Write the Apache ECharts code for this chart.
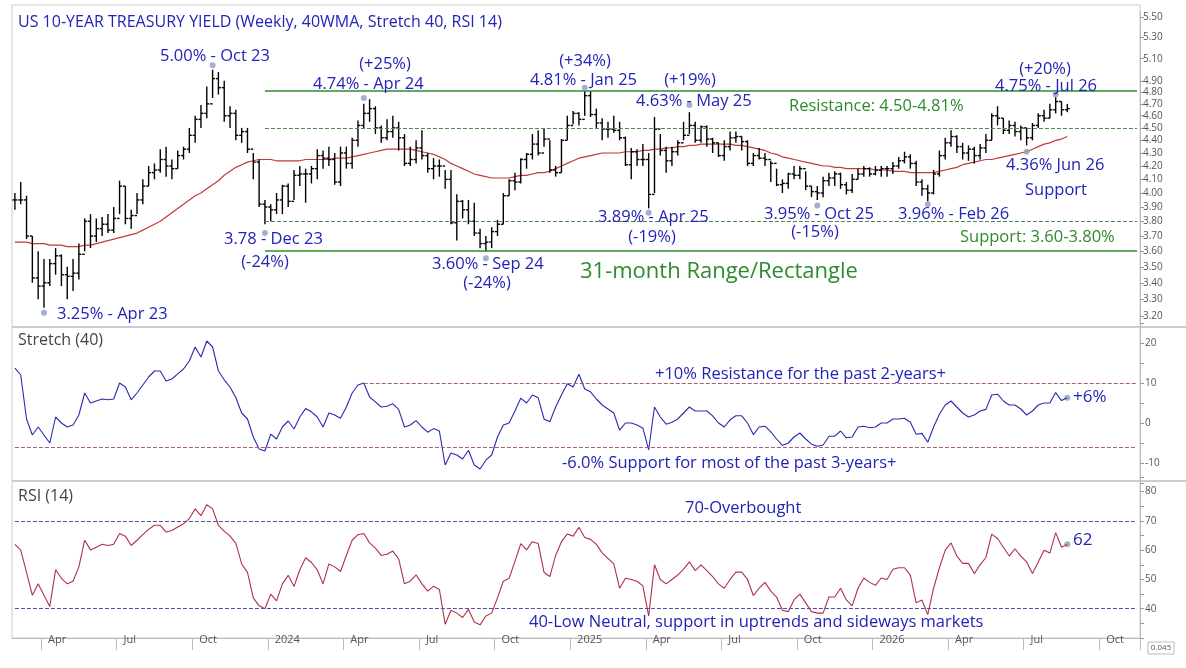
<!DOCTYPE html>
<html lang="en">
<head>
<meta charset="UTF-8">
<title>US 10-Year Treasury Yield</title>
<script src="https://cdn.jsdelivr.net/npm/echarts@6/dist/echarts.min.js"></script>
<style>
  html, body { margin: 0; padding: 0; background: #fff; }
  #chart { width: 1186px; height: 668px; }
</style>
</head>
<body>
<div id="chart"></div>
<script>
// weekly closes / highs / lows, first bar early Mar 2023
var closes = [
  3.95,3.95,3.70,3.43,3.38,3.40,3.52,3.57,3.45,3.44,
  3.46,3.58,3.80,3.70,3.75,3.78,3.74,3.82,4.05,3.82,
  3.84,3.95,4.05,4.15,4.17,4.25,4.20,4.18,4.28,4.33,
  4.44,4.57,4.62,4.70,4.92,4.84,4.60,4.62,4.44,4.47,
  4.33,4.23,3.92,3.90,3.88,3.95,4.05,3.94,4.13,4.14,
  4.14,4.18,4.28,4.26,4.25,4.08,4.30,4.22,4.40,4.52,
  4.62,4.66,4.50,4.42,4.47,4.50,4.42,4.22,4.25,4.34,
  4.28,4.18,4.20,4.20,4.10,3.79,3.94,3.88,3.80,3.72,
  3.65,3.66,3.73,3.78,3.98,4.09,4.08,4.25,4.29,4.37,
  4.30,4.41,4.17,4.15,4.40,4.52,4.62,4.57,4.77,4.61,
  4.54,4.49,4.49,4.48,4.42,4.21,4.31,4.25,4.25,3.99,
  4.49,4.32,4.24,4.31,4.38,4.44,4.52,4.40,4.51,4.41,
  4.38,4.28,4.35,4.42,4.43,4.39,4.22,4.28,4.26,4.25,
  4.22,4.06,4.07,4.14,4.13,4.18,4.05,4.01,4.00,4.09,
  4.11,4.14,4.06,4.02,4.10,4.14,4.18,4.14,4.17,4.18,
  4.18,4.20,4.24,4.27,4.22,4.08,4.03,4.00,4.14,4.28,
  4.38,4.43,4.35,4.30,4.33,4.28,4.34,4.40,4.60,4.58,
  4.48,4.52,4.47,4.50,4.42,4.52,4.60,4.58,4.65,4.72,
  4.65,4.66
];
var highs = [
  4.00,4.08,3.98,3.70,3.60,3.55,3.55,3.62,3.58,3.50,
  3.55,3.65,3.82,3.85,3.82,3.83,3.85,3.90,4.09,4.05,
  3.88,4.00,4.10,4.20,4.22,4.33,4.35,4.25,4.32,4.35,
  4.50,4.60,4.69,4.85,5.00,4.98,4.90,4.68,4.65,4.50,
  4.50,4.30,4.25,3.95,3.92,4.00,4.06,4.07,4.17,4.20,
  4.18,4.20,4.33,4.32,4.35,4.30,4.35,4.35,4.42,4.56,
  4.70,4.74,4.68,4.52,4.57,4.60,4.55,4.45,4.35,4.40,
  4.48,4.30,4.26,4.25,4.17,4.17,3.99,3.95,3.95,3.93,
  3.75,3.70,3.76,3.81,4.00,4.10,4.15,4.26,4.30,4.45,
  4.48,4.50,4.40,4.20,4.41,4.60,4.64,4.63,4.81,4.81,
  4.66,4.58,4.55,4.60,4.55,4.43,4.34,4.33,4.37,4.30,
  4.59,4.45,4.35,4.35,4.40,4.55,4.63,4.55,4.52,4.52,
  4.42,4.38,4.40,4.47,4.47,4.43,4.40,4.30,4.34,4.30,
  4.24,4.18,4.10,4.15,4.20,4.20,4.16,4.05,4.05,4.12,
  4.15,4.16,4.15,4.08,4.14,4.18,4.20,4.19,4.20,4.20,
  4.20,4.23,4.27,4.31,4.29,4.24,4.10,4.06,4.17,4.32,
  4.42,4.48,4.44,4.38,4.36,4.35,4.37,4.45,4.62,4.68,
  4.58,4.56,4.55,4.52,4.50,4.54,4.62,4.65,4.70,4.76,
  4.72,4.70
];
var lows = [
  3.88,3.92,3.68,3.40,3.30,3.25,3.38,3.45,3.38,3.30,
  3.35,3.42,3.60,3.62,3.66,3.70,3.72,3.72,3.85,3.78,
  3.75,3.85,3.92,4.05,4.10,4.15,4.12,4.10,4.18,4.25,
  4.30,4.38,4.50,4.58,4.75,4.78,4.55,4.50,4.40,4.38,
  4.30,4.10,3.90,3.78,3.80,3.85,3.85,3.90,3.95,4.05,
  3.93,4.07,4.10,4.18,4.20,4.06,4.05,4.18,4.18,4.35,
  4.50,4.55,4.45,4.38,4.40,4.42,4.32,4.20,4.20,4.22,
  4.25,4.15,4.10,4.12,4.03,3.78,3.67,3.82,3.78,3.70,
  3.62,3.60,3.62,3.70,3.78,3.98,4.02,4.07,4.18,4.25,
  4.28,4.35,4.15,4.12,4.15,4.40,4.53,4.52,4.60,4.59,
  4.50,4.40,4.42,4.46,4.40,4.20,4.10,4.20,4.20,3.89,
  4.00,4.28,4.15,4.20,4.28,4.40,4.45,4.38,4.38,4.35,
  4.30,4.27,4.24,4.32,4.38,4.32,4.20,4.20,4.25,4.20,
  4.08,4.05,4.00,4.03,4.10,4.10,4.02,3.97,3.95,3.97,
  4.05,4.05,4.03,3.99,4.00,4.10,4.12,4.12,4.13,4.12,
  4.12,4.14,4.18,4.22,4.18,4.05,3.98,3.94,3.99,4.12,
  4.25,4.35,4.30,4.25,4.24,4.22,4.25,4.30,4.40,4.52,
  4.45,4.45,4.43,4.40,4.36,4.40,4.50,4.55,4.58,4.62,
  4.60,4.63
];
var ma40 = [
  3.66,3.66,3.66,3.65,3.65,3.65,3.64,3.64,3.64,3.63,
  3.63,3.63,3.64,3.64,3.65,3.66,3.67,3.68,3.69,3.70,
  3.71,3.72,3.74,3.76,3.78,3.80,3.83,3.86,3.89,3.92,
  3.95,3.98,4.00,4.03,4.06,4.09,4.13,4.16,4.19,4.21,
  4.23,4.24,4.25,4.25,4.25,4.24,4.24,4.24,4.24,4.24,
  4.25,4.25,4.25,4.25,4.25,4.26,4.26,4.26,4.27,4.28,
  4.29,4.30,4.31,4.32,4.33,4.33,4.33,4.33,4.33,4.32,
  4.31,4.30,4.29,4.27,4.25,4.22,4.20,4.18,4.16,4.14,
  4.13,4.12,4.11,4.11,4.11,4.11,4.12,4.13,4.13,4.14,
  4.15,4.15,4.16,4.18,4.20,4.22,4.24,4.26,4.27,4.28,
  4.29,4.30,4.30,4.30,4.30,4.31,4.31,4.31,4.32,4.32,
  4.33,4.33,4.34,4.34,4.35,4.35,4.36,4.36,4.37,4.37,
  4.37,4.37,4.37,4.37,4.36,4.36,4.35,4.34,4.33,4.32,
  4.30,4.29,4.27,4.26,4.25,4.24,4.23,4.22,4.21,4.20,
  4.20,4.19,4.19,4.18,4.18,4.18,4.18,4.18,4.17,4.17,
  4.17,4.16,4.16,4.16,4.15,4.15,4.15,4.15,4.15,4.16,
  4.17,4.18,4.19,4.21,4.22,4.23,4.24,4.25,4.25,4.26,
  4.27,4.28,4.29,4.30,4.31,4.33,4.35,4.37,4.38,4.40,
  4.41,4.43
];
var stretch = [
  13.7,12,1,-3,-1,-3,-5,1.5,0,-1,
  -0.5,2,7.5,5,5.5,6,5.8,6,10,9,
  5.8,7.5,9.5,11.5,13,13,10.5,11,12.3,13.5,
  15.5,19,16.5,20.5,19,13,10.8,9,6.3,2.5,
  1,-3.5,-6.5,-7,-2.8,-4,-1,0.5,-1.5,1.5,
  3.6,2.8,1.5,-1,2.5,2,1.2,4,7.5,9.5,
  10,6.5,5.3,4,4.2,4.8,3.4,-1,-0.5,0.6,
  -1,-2.3,-1.4,-2,-10.5,-7.5,-8,-9,-6.8,-10.5,
  -11.5,-9.3,-8,-3.5,-0.5,0,3,6.2,5,7,
  6.3,1,0.3,4,7,9.8,9,12.2,8.5,7.8,
  6,4.5,3.5,2.5,-1.8,0,0,-0.5,-1.3,-6.7,
  4,1.5,-0.3,0.2,1,2.5,4,3,3,3,
  1.8,0,-1,0.8,1.8,1.8,0,-2.9,-1,-0.8,
  -2.2,-4,-5.6,-5,-3.5,-2.5,-4,-5.3,-5.8,-5.5,
  -3.3,-3.3,-2,-3.7,-3.5,-1,-0.8,-1.2,-1,0,
  0,1,1,1.2,0.2,-2.8,-2.6,-4.8,-1,2.2,
  4.5,5.5,4,2.5,1.5,2,3,3.4,7,7.2,
  5.5,4.5,4.5,3.5,2,3,4.5,5,5,7.6,
  5.6,6.3
];
var rsi = [
  62,60,52.4,44.6,48.5,44.6,40.8,53.3,50.4,48.5,
  49.4,54.3,63.4,60.1,61,62,61.6,62,65.7,64.8,
  61.6,63.4,65.3,67.1,68.5,68.5,66.2,66.7,67.9,69,
  70.8,74.1,71.8,75.5,74.1,68.5,66.5,64.8,62.3,55.3,
  52.4,43.7,41,40,45,42.7,48.5,51.4,47.6,53.3,
  57.4,55.8,53.3,48.5,55.3,54.3,52.7,58.2,63.4,65.3,
  65.7,62.5,60.7,58.2,58.6,59.7,57,48.5,49.4,51.6,
  48.5,46,47.7,46.6,34.7,39.5,38.5,37,39.8,35.5,
  34.5,37.5,38.5,43.7,49.4,50.4,56.2,62.2,60.1,62.9,
  62.3,52.4,51,58.2,62.9,65.5,64.8,67.8,64.3,63.7,
  62,59.1,57.2,55.3,47,50.4,50,49.4,47.8,37.5,
  55,50,48.5,50,51.5,53.5,56,53,55,53,
  51,48.5,47,50,52.5,52.5,50,44.5,47,49,
  46,44,39.5,39,43,45,42,39,38.5,38.5,
  44,44,47,43,41,47,50.5,49,48,50.5,
  50,53.5,54,54,51.5,42,43,38,47,54,
  60,62.5,58,55.5,55.5,52,55,57.5,65.5,64,
  61,58,60.5,58,56,52,56,60,59,66,
  61,62
];
// annotated turning points: week index and dot value
var pointIdx = [5, 34, 43, 60, 81, 98, 109, 116, 138, 157, 174, 179];
var pointVal = [3.22, 5.04, 3.72, 4.75, 3.555, 4.84, 3.86, 4.69, 3.91, 3.92, 4.31, 4.78];
// range levels
var resistance = [4.81, 4.50];
var support = [3.60, 3.80];
var stretchLevels = [10, -6];
var rsiLevels = [70, 40];
var priceTicks = [3.2,3.3,3.4,3.5,3.6,3.7,3.8,3.9,4.0,4.1,4.2,4.3,4.4,4.5,4.6,4.7,4.8,4.9,5.1,5.3,5.5];
var monthNames = ['Jan','Feb','Mar','Apr','May','Jun','Jul','Aug','Sep','Oct','Nov','Dec'];

// weekly category dates
var weeks = [];
var t0 = Date.UTC(2023, 2, 3);
for (var k = 0; k < 194; k++) weeks.push(new Date(t0 + k * 7 * 86400000));
var cats = weeks.map(function (d) { return d.toISOString().slice(0, 10); });
function isQuarter(i) {
    if (i === 0) return false;
    var m = weeks[i].getUTCMonth();
    return m !== weeks[i - 1].getUTCMonth() && m % 3 === 0;
}

var BLUE = '#2222b8', GREEN = '#2f8a2f', AXC = '#555';
var gridL = 12, gridR = 46;

function xAx(idx, showLabel) {
    return {
        type: 'category', gridIndex: idx, data: cats, boundaryGap: true,
        axisLine: { show: showLabel, lineStyle: { color: '#bbb' } },
        axisTick: { show: showLabel, interval: function (i) { return isQuarter(i); }, length: 12, lineStyle: { color: '#bbb' } },
        axisLabel: {
            show: showLabel, interval: function (i) { return isQuarter(i); },
            align: 'left', padding: [0, 0, 0, 4], margin: -4,
            color: AXC, fontSize: 11, fontFamily: 'Open Sans',
            formatter: function (v) { var d = new Date(v); var m = d.getUTCMonth(); return m === 0 ? String(d.getUTCFullYear()) : monthNames[m]; }
        },
        splitLine: { show: false }
    };
}

var ohlc = closes.map(function (c, i) { return [i, i > 0 ? closes[i - 1] : c, c, lows[i], highs[i]]; });
var lastLevelIdx = cats.length - 1;

function hLine(y, from, color, type) {
    return [{ coord: [from, y], lineStyle: { color: color, type: type, width: type === 'solid' ? 1.5 : 1 } }, { coord: [lastLevelIdx, y] }];
}

var option = {
    animation: false,
    textStyle: { fontFamily: 'Open Sans' },
    grid: [
        { left: gridL, right: gridR, top: 12, height: 313 },
        { left: gridL, right: gridR, top: 323, height: 160 },
        { left: gridL, right: gridR, top: 477, height: 161 }
    ],
    xAxis: [xAx(0, false), xAx(1, false), xAx(2, true)],
    yAxis: [
        {
            type: 'log', logBase: 10, gridIndex: 0, position: 'right', min: 3.15, max: 5.55,
            axisLine: { show: true, lineStyle: { color: '#bbb' } },
            axisTick: { show: true, customValues: priceTicks, length: 4, lineStyle: { color: '#999' } },
            axisLabel: { customValues: priceTicks, color: AXC, fontSize: 10, margin: 3, formatter: function (v) { return v.toFixed(2); } },
            splitLine: { show: false }
        },
        {
            type: 'value', gridIndex: 1, position: 'right', min: -15, max: 25, interval: 5,
            axisLine: { show: true, lineStyle: { color: '#bbb' } },
            axisTick: { show: true, length: 4, lineStyle: { color: '#999' } },
            axisLabel: { color: AXC, fontSize: 10, margin: 5, formatter: function (v) { return (v % 10 === 0 && v > -15 && v < 25) ? v : ''; } },
            splitLine: { show: false }
        },
        {
            type: 'value', gridIndex: 2, position: 'right', min: 30, max: 85, interval: 5,
            axisLine: { show: true, lineStyle: { color: '#bbb' } },
            axisTick: { show: true, length: 4, lineStyle: { color: '#999' } },
            axisLabel: { color: AXC, fontSize: 10, margin: 5, formatter: function (v) { return (v % 10 === 0 && v >= 40 && v <= 80) ? v : ''; } },
            splitLine: { show: false }
        }
    ],
    series: [
        {
            type: 'custom', xAxisIndex: 0, yAxisIndex: 0, data: ohlc,
            renderItem: function (params, api) {
                var x = api.coord([api.value(0), 1])[0];
                var o = api.coord([api.value(0), api.value(1)])[1];
                var c = api.coord([api.value(0), api.value(2)])[1];
                var lo = api.coord([api.value(0), api.value(3)])[1];
                var hi = api.coord([api.value(0), api.value(4)])[1];
                var st = { stroke: '#000', lineWidth: 1.4 };
                return { type: 'group', children: [
                    { type: 'line', shape: { x1: x, y1: hi, x2: x, y2: lo }, style: st },
                    { type: 'line', shape: { x1: x - 2.5, y1: o, x2: x, y2: o }, style: st },
                    { type: 'line', shape: { x1: x, y1: c, x2: x + 2.5, y2: c }, style: st }
                ] };
            },
            z: 3
        },
        {
            type: 'line', xAxisIndex: 0, yAxisIndex: 0, data: ma40, symbol: 'none',
            lineStyle: { color: '#c0393b', width: 1.2 }, z: 2,
            markLine: {
                silent: true, symbol: 'none', label: { show: false },
                data: [
                    hLine(resistance[0], 43, GREEN, 'solid'),
                    hLine(resistance[1], 43, '#4a8a4a', 'dashed'),
                    hLine(support[0], 43, GREEN, 'solid'),
                    hLine(support[1], 43, '#4a8a4a', 'dashed')
                ]
            }
        },
        {
            type: 'scatter', xAxisIndex: 0, yAxisIndex: 0, symbolSize: 6, z: 5,
            itemStyle: { color: '#8aa0bf' },
            data: pointIdx.map(function (i, k) { return [i, pointVal[k]]; })
        },
        {
            type: 'line', xAxisIndex: 1, yAxisIndex: 1, data: stretch, symbol: 'none',
            lineStyle: { color: '#2a2ab0', width: 1.1 },
            markLine: {
                silent: true, symbol: 'none', label: { show: false },
                lineStyle: { color: '#a0607a', type: 'dashed', width: 1 },
                data: [
                    [{ coord: [60, stretchLevels[0]] }, { coord: [lastLevelIdx, stretchLevels[0]] }],
                    [{ coord: [0, stretchLevels[1]] }, { coord: [lastLevelIdx, stretchLevels[1]] }]
                ]
            }
        },
        {
            type: 'scatter', xAxisIndex: 1, yAxisIndex: 1, symbolSize: 6, itemStyle: { color: '#8aa0bf' },
            data: [[stretch.length - 1, stretch[stretch.length - 1]]]
        },
        {
            type: 'line', xAxisIndex: 2, yAxisIndex: 2, data: rsi, symbol: 'none',
            lineStyle: { color: '#b0304a', width: 1.1 },
            markLine: {
                silent: true, symbol: 'none', label: { show: false },
                lineStyle: { color: '#50509a', type: 'dashed', width: 1 },
                data: [
                    [{ coord: [0, rsiLevels[0]] }, { coord: [lastLevelIdx, rsiLevels[0]] }],
                    [{ coord: [0, rsiLevels[1]] }, { coord: [lastLevelIdx, rsiLevels[1]] }]
                ]
            }
        },
        {
            type: 'scatter', xAxisIndex: 2, yAxisIndex: 2, symbolSize: 6, itemStyle: { color: '#8aa0bf' },
            data: [[rsi.length - 1, rsi[rsi.length - 1]]]
        }
    ],
    graphic: []
};

// frame and panel separators
var g = option.graphic;
g.push({ type: 'rect', shape: { x: 12, y: 5, width: 1128, height: 633 }, style: { fill: 'none', stroke: '#ccc', lineWidth: 1 }, silent: true });
g.push({ type: 'line', shape: { x1: 12, y1: 327, x2: 1186, y2: 327 }, style: { stroke: '#ccc', lineWidth: 2 } });
g.push({ type: 'line', shape: { x1: 12, y1: 481, x2: 1186, y2: 481 }, style: { stroke: '#ccc', lineWidth: 2 } });

function txt(x, y, s, color, size, align) {
    g.push({ type: 'text', x: x, y: y, style: { text: s, fill: color, font: (size || 16.5) + 'px "Open Sans"', textAlign: align || 'left', textVerticalAlign: 'middle' }, z: 10 });
}
txt(18, 22, 'US 10-YEAR TREASURY YIELD (Weekly, 40WMA, Stretch 40, RSI 14)', BLUE, 16);
txt(160, 56, '5.00% - Oct 23', BLUE);
txt(385, 64, '(+25%)', BLUE, 16.5, 'center');
txt(313, 84, '4.74% - Apr 24', BLUE);
txt(585, 61, '(+34%)', BLUE, 16.5, 'center');
txt(530, 80, '4.81% - Jan 25', BLUE);
txt(690, 80, '(+19%)', BLUE, 16.5, 'center');
txt(636, 101, '4.63% - May 25', BLUE);
txt(789, 106, 'Resistance: 4.50-4.81%', GREEN, 16.5);
txt(1045, 69, '(+20%)', BLUE, 16.5, 'center');
txt(995, 86, '4.75% - Jul 26', BLUE);
txt(1006, 165, '4.36% Jun 26', BLUE);
txt(1056, 190, 'Support', BLUE, 16.5, 'center');
txt(224, 239, '3.78 - Dec 23', BLUE);
txt(265, 262, '(-24%)', BLUE, 16.5, 'center');
txt(432, 264, '3.60% - Sep 24', BLUE);
txt(487, 283, '(-24%)', BLUE, 16.5, 'center');
txt(580, 272, '31-month Range/Rectangle', GREEN, 22);
txt(598, 217, '3.89% - Apr 25', BLUE);
txt(652, 237, '(-19%)', BLUE, 16.5, 'center');
txt(764, 214, '3.95% - Oct 25', BLUE);
txt(815, 232, '(-15%)', BLUE, 16.5, 'center');
txt(898, 214, '3.96% - Feb 26', BLUE);
txt(960, 237, 'Support: 3.60-3.80%', GREEN, 16.5);
txt(57, 314, '3.25% - Apr 23', BLUE);
txt(18, 340, 'Stretch (40)', '#444', 16);
txt(655, 374, '+10% Resistance for the past 2-years+', BLUE);
txt(562, 463, '-6.0% Support for most of the past 3-years+', BLUE);
txt(1073, 397, '+6%', BLUE, 17);
txt(18, 496, 'RSI (14)', '#444', 16);
txt(685, 508, '70-Overbought', BLUE);
txt(1073, 540, '62', BLUE, 17);
txt(529, 622, '40-Low Neutral, support in uptrends and sideways markets', BLUE);
g.push({ type: 'rect', shape: { x: 1148, y: 642, width: 26, height: 12 }, style: { fill: '#fff', stroke: '#bbb' } });
txt(1161, 648, '0.045', '#555', 8, 'center');

var chart = echarts.init(document.getElementById('chart'));
chart.setOption(option);
</script>
</body>
</html>
